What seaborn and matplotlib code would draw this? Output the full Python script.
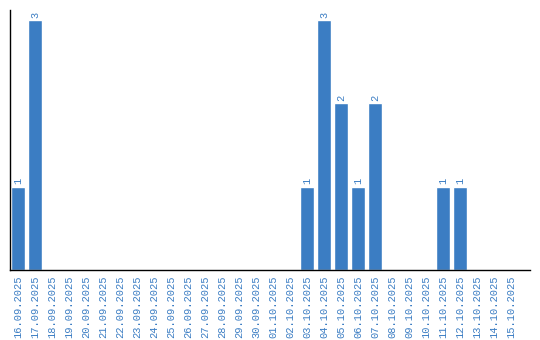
import matplotlib
matplotlib.use("Agg")
import matplotlib.pyplot as plt
import seaborn as sns
import pandas as pd

dates = ["16.09.2025", "17.09.2025", "18.09.2025", "19.09.2025", "20.09.2025",
         "21.09.2025", "22.09.2025", "23.09.2025", "24.09.2025", "25.09.2025",
         "26.09.2025", "27.09.2025", "28.09.2025", "29.09.2025", "30.09.2025",
         "01.10.2025", "02.10.2025", "03.10.2025", "04.10.2025", "05.10.2025",
         "06.10.2025", "07.10.2025", "08.10.2025", "09.10.2025", "10.10.2025",
         "11.10.2025", "12.10.2025", "13.10.2025", "14.10.2025", "15.10.2025"]
counts = [1, 3, 0, 0, 0, 0, 0, 0, 0, 0, 0, 0, 0, 0, 0,
          0, 0, 1, 3, 2, 1, 2, 0, 0, 0, 1, 1, 0, 0, 0]

df = pd.DataFrame({"date": dates, "count": counts})

sns.set_style("white")
bar_color = "#3b7dc3"
text_color = "#3b7dc3"
font = "Liberation Mono"

fig = plt.figure(figsize=(5.4, 3.4), dpi=100)
ax = fig.add_axes([10 / 540, 70 / 340, 520 / 540, 260 / 340])
sns.barplot(data=df, x="date", y="count", color=bar_color, width=0.82,
            saturation=1, ax=ax)

for i, v in enumerate(counts):
    if v > 0:
        ax.text(i, v + 0.03, str(v), rotation=90, ha="center", va="bottom",
                color=text_color, fontsize=7.5, family=font)

ax.set_xlim(-0.47, 30.12)
ax.set_ylim(0, 3.12)
ax.set_xlabel("")
ax.set_ylabel("")
ax.set_yticks([])
ax.set_xticks(range(len(dates)))
ax.set_xticklabels(dates, rotation=90, color=text_color, fontsize=7.5,
                   family=font)
ax.tick_params(axis="x", length=0, pad=4)
for s in ["top", "right"]:
    ax.spines[s].set_visible(False)
for s in ["left", "bottom"]:
    ax.spines[s].set_color("black")
    ax.spines[s].set_linewidth(1)

fig.savefig("out.png", dpi=100)
